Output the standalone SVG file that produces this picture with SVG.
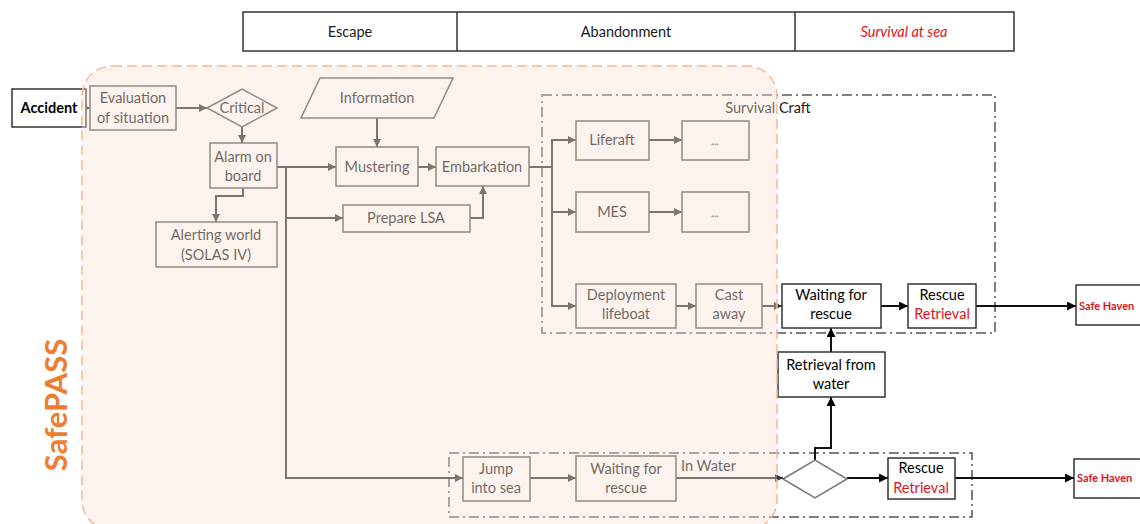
<svg xmlns="http://www.w3.org/2000/svg" width="1140" height="524" viewBox="0 0 1140 524">
<defs>
<style>
text{font-family:Lato,"Open Sans","Liberation Sans",sans-serif;font-size:14.5px;fill:#1a1a1a;text-anchor:middle}
.b{fill:#fff;stroke:#555;stroke-width:1.5}
.k{fill:#fff;stroke:#333;stroke-width:1.5}
.c{fill:none;stroke:#333;stroke-width:2}
.cb{fill:none;stroke:#111;stroke-width:2}
.dd{fill:none;stroke:#555;stroke-width:1.5;stroke-dasharray:10 4 2 4}
text.red{fill:#e0121b}
text.dk{fill:#000}
text.bold{font-weight:bold;fill:#000}
text.dots{font-size:11px}
text.st{text-anchor:start}
text.sh{font-size:11px;font-weight:bold;fill:#e0121b;text-anchor:start}
text.sp{font-size:31px;font-weight:bold;fill:#ed7d31}
</style>
<marker id="a" viewBox="0 0 10 10" refX="10" refY="5" markerWidth="9" markerHeight="8" markerUnits="userSpaceOnUse" orient="auto"><path d="M0,0 L10,5 L0,10 z" fill="#333"/></marker>
<marker id="ak" viewBox="0 0 10 10" refX="10" refY="5" markerWidth="10" markerHeight="9" markerUnits="userSpaceOnUse" orient="auto"><path d="M0,0 L10,5 L0,10 z" fill="#000"/></marker>
</defs>
<rect width="1140" height="524" fill="#fff"/>

<g id="header">
<rect x="243" y="12" width="771" height="39" fill="#fff" stroke="#333" stroke-width="1.5"/>
<line x1="457" y1="12" x2="457" y2="51" stroke="#333" stroke-width="1.5"/>
<line x1="795" y1="12" x2="795" y2="51" stroke="#333" stroke-width="1.5"/>
<text x="350" y="37">Escape</text>
<text x="626" y="37">Abandonment</text>
<text x="904" y="37" class="red" font-style="italic">Survival at sea</text>
</g>

<g id="groups">
<rect x="542" y="95" width="453" height="238" class="dd"/>
<text x="768" y="113">Survival Craft</text>
<rect x="449" y="453" width="523" height="64" class="dd"/>
<text x="681" y="471" class="st">In Water</text>
</g>

<g id="connectors">
<path class="c" d="M86,108 H90" marker-end="url(#a)"/>
<path class="c" d="M176,108 H207" marker-end="url(#a)"/>
<path class="c" d="M242,127 V143" marker-end="url(#a)"/>
<path class="c" d="M243,188 V196 H216 V222" marker-end="url(#a)"/>
<path class="c" d="M277,167 H336" marker-end="url(#a)"/>
<path class="c" d="M286,218 H343" marker-end="url(#a)"/>
<path class="c" d="M286,167 V478 H463" marker-end="url(#a)"/>
<path class="c" d="M377,118 V147" marker-end="url(#a)"/>
<path class="c" d="M418,167 H436" marker-end="url(#a)"/>
<path class="c" d="M470,218 H483 V186" marker-end="url(#a)"/>
<path class="c" d="M529,167 H552"/>
<path class="c" d="M552,167 V140 H576" marker-end="url(#a)"/>
<path class="c" d="M552,167 V212 H576" marker-end="url(#a)"/>
<path class="c" d="M552,167 V306 H576" marker-end="url(#a)"/>
<path class="c" d="M649,140 H682" marker-end="url(#a)"/>
<path class="c" d="M649,212 H682" marker-end="url(#a)"/>
<path class="c" d="M676,306 H696" marker-end="url(#a)"/>
<path class="c" d="M762,306 H782" marker-end="url(#a)"/>
<path class="cb" d="M881,306 H908" marker-end="url(#ak)"/>
<path class="cb" d="M976,306 H1076" marker-end="url(#ak)"/>
<path class="cb" d="M831,352 V328" marker-end="url(#ak)"/>
<path class="cb" d="M815,460 V448 H831 V397" marker-end="url(#ak)"/>
<path class="c" d="M530,478 H576" marker-end="url(#a)"/>
<path class="c" d="M676,478 H783" marker-end="url(#a)"/>
<path class="cb" d="M847,478 H888" marker-end="url(#ak)"/>
<path class="cb" d="M955,478 H1074" marker-end="url(#ak)"/>
</g>

<g id="accident"><rect x="12" y="89" width="74" height="38" class="k"/><text x="49" y="113" class="bold">Accident</text></g>
<g id="evaluation"><rect x="90" y="86" width="86" height="44" class="b"/><text x="133" y="103">Evaluation</text><text x="133" y="123">of situation</text></g>
<g id="critical"><polygon points="207,108 242,89 277,108 242,127" class="b"/><text x="242" y="113">Critical</text></g>
<g id="alarm"><rect x="210" y="143" width="67" height="45" class="b"/><text x="243" y="162">Alarm on</text><text x="243" y="181">board</text></g>
<g id="alerting"><rect x="156" y="222" width="121" height="45" class="b"/><text x="216" y="240">Alerting world</text><text x="216" y="260">(SOLAS IV)</text></g>
<g id="information"><polygon points="320,78 453,78 434,118 301,118" class="b"/><text x="377" y="103">Information</text></g>
<g id="mustering"><rect x="336" y="147" width="82" height="39" class="b"/><text x="377" y="172">Mustering</text></g>
<g id="embarkation"><rect x="436" y="147" width="93" height="39" class="b"/><text x="482" y="172">Embarkation</text></g>
<g id="prepare-lsa"><rect x="343" y="205" width="127" height="27" class="b"/><text x="406" y="223">Prepare LSA</text></g>
<g id="liferaft"><rect x="576" y="121" width="73" height="39" class="b"/><text x="612" y="145">Liferaft</text></g>
<g id="liferaft-next"><rect x="682" y="121" width="67" height="39" class="b"/><text x="715" y="145" class="dots">...</text></g>
<g id="mes"><rect x="576" y="192" width="73" height="40" class="b"/><text x="612" y="217">MES</text></g>
<g id="mes-next"><rect x="682" y="192" width="67" height="40" class="b"/><text x="715" y="217" class="dots">...</text></g>
<g id="deployment"><rect x="576" y="284" width="100" height="44" class="b"/><text x="626" y="300">Deployment</text><text x="626" y="319">lifeboat</text></g>
<g id="cast-away"><rect x="696" y="284" width="66" height="44" class="b"/><text x="729" y="300">Cast</text><text x="729" y="319">away</text></g>
<g id="waiting-craft"><rect x="782" y="284" width="99" height="44" class="k"/><text x="831" y="300" class="dk">Waiting for</text><text x="831" y="319" class="dk">rescue</text></g>
<g id="rescue-craft"><rect x="908" y="284" width="68" height="44" class="k"/><text x="942" y="300" class="dk">Rescue</text><text x="942" y="319" class="red">Retrieval</text></g>
<g id="safe-haven-1"><rect x="1076" y="285" width="70" height="40" class="k"/><text x="1079" y="310" class="sh">Safe Haven</text></g>
<g id="retrieval-water"><rect x="778" y="352" width="107" height="45" class="k"/><text x="831" y="370" class="dk">Retrieval from</text><text x="831" y="389" class="dk">water</text></g>
<g id="jump"><rect x="463" y="457" width="67" height="44" class="b"/><text x="496" y="474">Jump</text><text x="496" y="493">into sea</text></g>
<g id="waiting-water"><rect x="576" y="456" width="100" height="45" class="b"/><text x="626" y="474">Waiting for</text><text x="626" y="493">rescue</text></g>
<g id="decision"><polygon points="783,479 815,460 847,479 815,498" fill="#fff" stroke="#777" stroke-width="1.5"/></g>
<g id="rescue-water"><rect x="888" y="458" width="67" height="41" class="k"/><text x="921" y="473" class="dk">Rescue</text><text x="921" y="493" class="red">Retrieval</text></g>
<g id="safe-haven-2"><rect x="1074" y="459" width="72" height="39" class="k"/><text x="1077" y="482" class="sh">Safe Haven</text></g>

<g id="safepass">
<rect x="82" y="66" width="695" height="464" rx="30" fill="#fadfd2" fill-opacity="0.38" stroke="#f6b88e" stroke-width="1.5" stroke-dasharray="10 5"/>
<text transform="translate(67,405) rotate(-90)" class="sp">SafePASS</text>
</g>
</svg>
